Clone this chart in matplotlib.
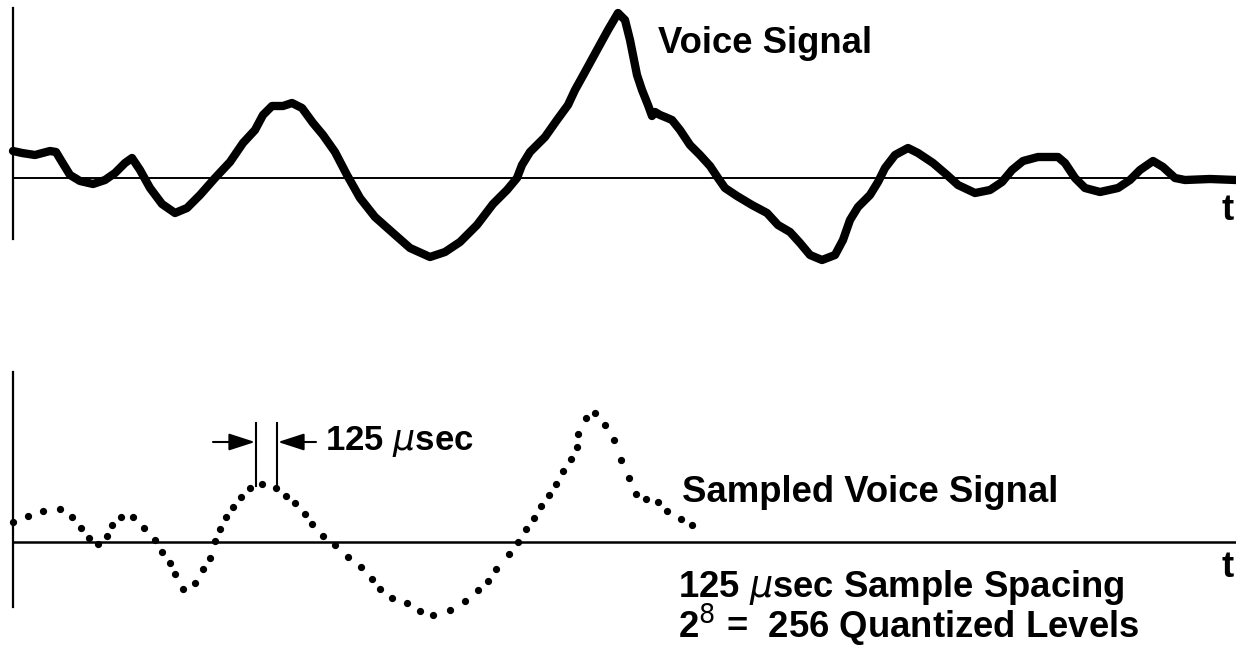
import numpy as np
import matplotlib
matplotlib.use("Agg")
import matplotlib.pyplot as plt

# voice signal, time (arbitrary units) vs amplitude above the zero line
voice_t = [13, 22, 35, 50, 56, 62, 70, 80, 93, 105, 115, 125, 132, 140, 150, 162, 175, 187,
           200, 215, 230, 243, 255, 263, 272, 283, 292, 302, 313, 323, 335, 347, 360, 375,
           393, 410, 430, 445, 460, 477, 493, 507, 517, 522, 530, 545, 557, 568, 575, 585,
           597, 608, 618, 625, 630, 637, 642, 648, 652, 655, 660, 665, 672, 680, 690, 700,
           710, 718, 725, 737, 752, 767, 778, 790, 800, 810, 822, 835, 843, 850, 858, 870,
           878, 885, 895, 908, 918, 933, 947, 958, 975, 990, 1002, 1012, 1023, 1038, 1058,
           1065, 1075, 1085, 1100, 1118, 1130, 1140, 1153, 1163, 1175, 1185, 1210, 1236]
voice_a = [27, 25, 23, 27, 26, 16, 3, -3, -6, -2, 5, 15, 20, 8, -10, -26, -35, -30,
           -17, 0, 16, 35, 48, 63, 72, 72, 75, 70, 55, 43, 26, 3, -20, -39,
           -55, -70, -79, -74, -64, -47, -26, -12, 0, 13, 26, 41, 58, 73, 88, 106,
           128, 148, 165, 158, 138, 103, 88, 73, 62, 66, 63, 61, 58, 48, 33, 23,
           12, 0, -10, -18, -27, -35, -47, -54, -65, -77, -82, -77, -62, -42, -29, -17,
           -4, 10, 23, 30, 25, 15, 3, -7, -15, -12, -4, 8, 17, 21, 21,
           15, 0, -10, -14, -10, -2, 8, 17, 11, 0, -2, -1, -2]

# sampled voice signal (125 usec spacing)
samp_t = [13, 28, 43, 60, 72, 81, 89, 98, 107, 112, 121, 133, 144, 155, 162, 170, 175, 183,
          195, 203, 210, 215, 220, 226, 233, 241, 250, 262, 276, 286, 295, 305, 312, 323,
          335, 348, 361, 372, 380, 392, 407, 420, 433, 450, 465, 478, 488, 496, 509, 518,
          526, 534, 541, 549, 556, 563, 571, 577, 578, 586, 595, 605, 614, 621, 629, 636,
          646, 658, 667, 681, 692]
samp_a = [20, 26, 31, 33, 25, 14, 4, -2, 6, 17, 25, 25, 14, 2, -10, -21, -32, -47,
          -41, -27, -16, 1, 13, 25, 35, 45, 54, 58, 54, 46, 39, 28, 18, 6,
          -3, -15, -25, -37, -47, -56, -61, -69, -73, -68, -59, -48, -39, -27, -12, 0,
          13, 24, 36, 47, 58, 71, 83, 95, 108, 124, 129, 117, 102, 82, 64, 48,
          43, 40, 31, 23, 17]

FONT = "Liberation Sans"
FS = 26.3

fig = plt.figure(figsize=(12.36, 6.47), dpi=100)
ax1 = fig.add_axes([0, 347 / 647, 1, 300 / 647])
ax2 = fig.add_axes([0, 0, 1, 347 / 647])
ax1.set_xlim(0, 1236)
ax1.set_ylim(-122, 178)
ax2.set_xlim(0, 1236)
ax2.set_ylim(-105, 242)
for ax in (ax1, ax2):
    ax.axis("off")

# top panel: continuous signal
ax1.plot([13, 1236], [0, 0], color="black", lw=1.4)
ax1.plot([13, 13], [170, -61], color="black", lw=1.6)
ax1.plot(voice_t, voice_a, color="black", lw=6.0, solid_joinstyle="round", solid_capstyle="round")
ax1.text(658, 125, "Voice Signal", fontsize=FS, fontweight="bold", family=FONT, va="baseline")
ax1.text(1222, -42, "t", fontsize=FS, fontweight="bold", family=FONT, va="baseline")

# bottom panel: samples
ax2.plot([13, 1236], [0, 0], color="black", lw=1.8)
ax2.plot([13, 13], [170, -65], color="black", lw=1.6)
ax2.plot(samp_t, samp_a, "o", color="black", ms=4.2)
ax2.text(682, 40, "Sampled Voice Signal", fontsize=FS, fontweight="bold", family=FONT, va="baseline")
ax2.text(678, -97, "125 $\\mu$sec Sample Spacing\n2$^8$ =  256 Quantized Levels",
         fontsize=FS, fontweight="bold", family=FONT, va="baseline", linespacing=0.875)
ax2.text(1222, -35, "t", fontsize=FS, fontweight="bold", family=FONT, va="baseline")

# 125 usec spacing marker
ax2.plot([256, 256], [119, 56], color="black", lw=1.5)
ax2.plot([277, 277], [119, 56], color="black", lw=1.5)
arrow = dict(arrowstyle="-|>,head_length=16,head_width=5.2", mutation_scale=1,
             color="black", lw=1.5, shrinkA=0, shrinkB=0)
ax2.annotate("", xy=(255, 100), xytext=(213, 100), arrowprops=arrow)
ax2.annotate("", xy=(278, 100), xytext=(316, 100), arrowprops=arrow)
ax2.text(325, 92, r"125 $\mu$sec", fontsize=25, fontweight="bold", family=FONT, va="baseline")

fig.savefig("out.png", dpi=100)
